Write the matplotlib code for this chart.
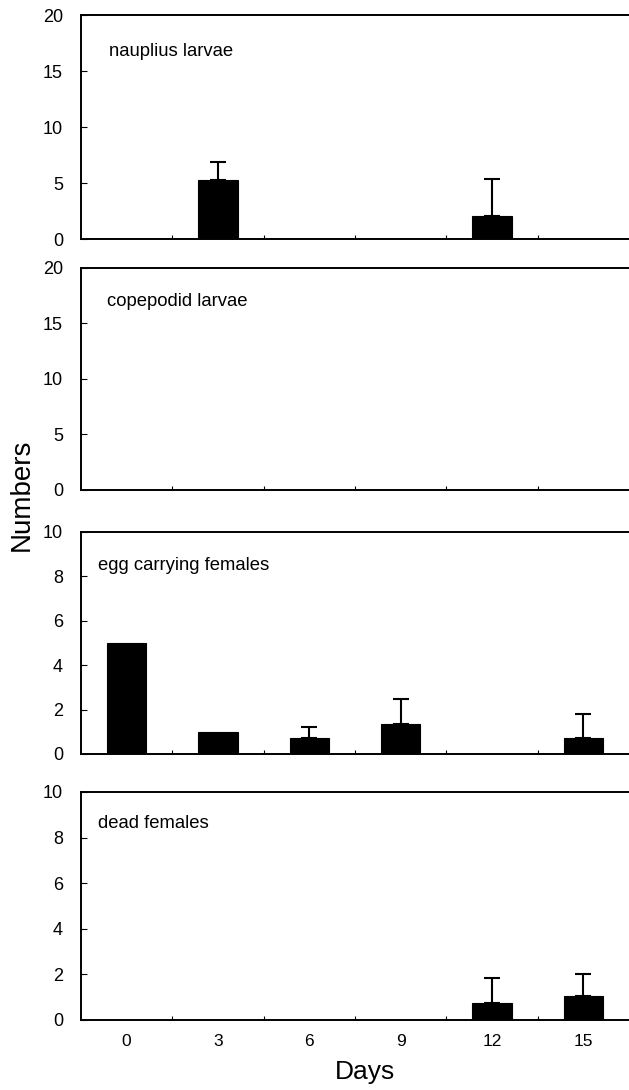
import matplotlib
matplotlib.use("Agg")
import matplotlib.pyplot as plt
import numpy as np

plt.rcParams['font.family'] = ['Liberation Sans', 'DejaVu Sans']

# data
days = [0, 3, 6, 9, 12, 15]
panel_names = ["nauplius larvae", "copepodid larvae", "egg carrying females", "dead females"]

nauplius_mean = [0, 5.3, 0, 0, 2.05, 0]
nauplius_err = [0, 1.6, 0, 0, 3.3, 0]
copepodid_mean = [0, 0, 0, 0, 0, 0]
copepodid_err = [0, 0, 0, 0, 0, 0]
egg_mean = [5.0, 1.0, 0.72, 1.35, 0, 0.7]
egg_err = [0, 0, 0.5, 1.15, 0, 1.1]
dead_mean = [0, 0, 0, 0, 0.75, 1.05]
dead_err = [0, 0, 0, 0, 1.1, 0.95]

means = [nauplius_mean, copepodid_mean, egg_mean, dead_mean]
errs = [nauplius_err, copepodid_err, egg_err, dead_err]
ymaxes = [20, 20, 10, 10]
ysteps = [5, 5, 2, 2]

W, H = 629, 1090
fig = plt.figure(figsize=(W / 100, H / 100), dpi=100)

# axes boxes in pixels: (top, bottom)
boxes = [(15, 239), (268, 490), (532, 754), (792, 1020)]
label_y = [0.835, 0.847, 0.85, 0.864]
label_x = [0.05, 0.048, 0.03, 0.03]
left_px, right_px = 81, 632

for i in range(4):
    top, bot = boxes[i]
    ax = fig.add_axes([left_px / W, 1 - bot / H, (right_px - left_px) / W, (bot - top) / H])
    m = np.array(means[i])
    e = np.array(errs[i])
    ax.bar(days, m, width=1.3, color='black', edgecolor='black', linewidth=0.8)
    has = e > 0
    if has.any():
        ax.errorbar(np.array(days)[has], m[has], yerr=[np.zeros(has.sum()), e[has]],
                    fmt='none', ecolor='black', elinewidth=1.5, capsize=6, capthick=1.5)
    ax.set_xlim(-1.5, 16.6)
    ax.set_ylim(0, ymaxes[i])
    ax.set_yticks(np.arange(0, ymaxes[i] + 0.1, ysteps[i]))
    ax.set_xticks(days)
    ax.set_xticks([1.5, 4.5, 7.5, 10.5, 13.5], minor=True)
    ax.tick_params(axis='x', which='major', length=0, pad=10, labelsize=12.5)
    ax.tick_params(axis='x', which='minor', direction='in', length=3, width=0.8)
    ax.tick_params(axis='y', direction='in', length=4, width=0.8, pad=13, labelsize=13)
    if i < 3:
        ax.set_xticklabels([])
    ax.spines['right'].set_visible(False)
    for s in ['left', 'bottom', 'top']:
        ax.spines[s].set_linewidth(1.4)
    ax.text(label_x[i], label_y[i], panel_names[i], transform=ax.transAxes,
            ha='left', va='center', fontsize=13.3)

fig.text(22 / W, 1 - 495 / H, "Numbers", rotation=90, ha='center', va='center', fontsize=20)
fig.text(365 / W, 1 - 1072 / H, "Days", ha='center', va='center', fontsize=19)

fig.savefig("out.png", dpi=100)
